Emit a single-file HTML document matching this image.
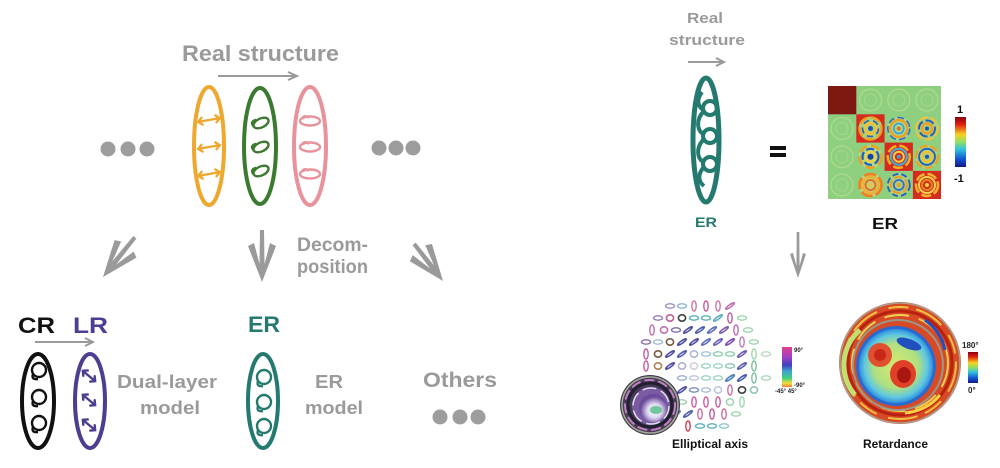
<!DOCTYPE html>
<html><head><meta charset="utf-8"><style>
html,body{margin:0;padding:0;background:#fff;}
svg{display:block;}
text{font-family:"Liberation Sans",Arial,sans-serif;font-weight:bold;}
</style></head><body>
<svg width="1000" height="468" viewBox="0 0 1000 468" xmlns="http://www.w3.org/2000/svg">
<defs>
  <linearGradient id="jet" x1="0" y1="0" x2="0" y2="1">
    <stop offset="0" stop-color="#8a0010"/><stop offset="0.15" stop-color="#e02010"/>
    <stop offset="0.35" stop-color="#f8d020"/><stop offset="0.5" stop-color="#90e060"/>
    <stop offset="0.65" stop-color="#30c0e0"/><stop offset="0.85" stop-color="#1050d0"/>
    <stop offset="1" stop-color="#101880"/>
  </linearGradient>
  <linearGradient id="hsv" x1="0" y1="0" x2="0" y2="1">
    <stop offset="0" stop-color="#e04090"/><stop offset="0.25" stop-color="#a040c0"/>
    <stop offset="0.45" stop-color="#4040c0"/><stop offset="0.6" stop-color="#40a0d0"/>
    <stop offset="0.78" stop-color="#40d080"/><stop offset="0.9" stop-color="#f0e040"/>
    <stop offset="1" stop-color="#f08030"/>
  </linearGradient>
  <radialGradient id="insetc" cx="0.55" cy="0.6" r="0.5">
    <stop offset="0" stop-color="#ffffff"/><stop offset="0.5" stop-color="#e0d8f0"/>
    <stop offset="1" stop-color="#6a4a9a"/>
  </radialGradient>
  <radialGradient id="inner" cx="0.5" cy="0.5" r="0.5">
    <stop offset="0" stop-color="#d8e870"/><stop offset="0.6" stop-color="#b0e080"/>
    <stop offset="0.85" stop-color="#60c8e0"/><stop offset="1" stop-color="#3090e0"/>
  </radialGradient>
  <ellipse id="h" rx="4.5" ry="2.2" fill="none" stroke-width="1.4"/>
  <ellipse id="v" rx="2.2" ry="5" fill="none" stroke-width="1.4"/>
  <ellipse id="o" rx="3.6" ry="3.2" fill="none" stroke-width="1.6"/>
  <ellipse id="d" rx="5.2" ry="1.2" transform="rotate(-35)" fill="none" stroke-width="1.6"/>
</defs>
<rect width="1000" height="468" fill="#fff"/>

<!-- ===== LEFT: Real structure ===== -->
<text x="182" y="61" font-size="22" textLength="157" lengthAdjust="spacingAndGlyphs" fill="#9a9a9a">Real structure</text>
<g stroke="#9a9a9a" stroke-width="2" fill="none">
  <line x1="218" y1="76" x2="296" y2="76"/>
  <path d="M288,72 L297,76 L288,80"/>
</g>

<!-- orange ellipse -->
<ellipse cx="209" cy="146" rx="15" ry="59" fill="none" stroke="#eea72f" stroke-width="4"/>
<g stroke="#eea72f" stroke-width="2.3" fill="none" stroke-linecap="round">
  <g transform="translate(209,120) rotate(-10)"><path d="M-11,0 H11 M-7,-3.5 L-11,0 L-7,3.5 M7,-3.5 L11,0 L7,3.5"/></g>
  <g transform="translate(209,147) rotate(-10)"><path d="M-11,0 H11 M-7,-3.5 L-11,0 L-7,3.5 M7,-3.5 L11,0 L7,3.5"/></g>
  <g transform="translate(209,174) rotate(-10)"><path d="M-11,0 H11 M-7,-3.5 L-11,0 L-7,3.5 M7,-3.5 L11,0 L7,3.5"/></g>
</g>
<!-- green ellipse -->
<ellipse cx="260" cy="146" rx="16" ry="58" fill="none" stroke="#3a7b30" stroke-width="4"/>
<g stroke="#3a7b30" stroke-width="2.4" fill="none">
  <g transform="translate(261,123) rotate(-25)"><ellipse rx="8" ry="4.5"/><path d="M-8,0 q-2,-6 5,-5"/></g>
  <g transform="translate(261,147) rotate(-25)"><ellipse rx="8" ry="4.5"/><path d="M-8,0 q-2,-6 5,-5"/></g>
  <g transform="translate(261,171) rotate(-25)"><ellipse rx="8" ry="4.5"/><path d="M-8,0 q-2,-6 5,-5"/></g>
</g>
<!-- pink ellipse -->
<ellipse cx="310" cy="146" rx="16" ry="59" fill="none" stroke="#e8929b" stroke-width="4"/>
<g stroke="#e8929b" stroke-width="2.4" fill="none">
  <ellipse cx="310" cy="121" rx="10" ry="4.5"/><path d="M302,119 q2,-5 7,-1"/>
  <ellipse cx="310" cy="147" rx="10" ry="4.5"/><path d="M302,145 q2,-5 7,-1"/>
  <ellipse cx="310" cy="174" rx="10" ry="4.5"/><path d="M302,172 q2,-5 7,-1"/>
</g>

<!-- dots -->
<g fill="#9d9d9d">
  <circle cx="108" cy="149" r="7.5"/><circle cx="128" cy="149" r="7.5"/><circle cx="147" cy="149" r="7.5"/>
  <circle cx="379" cy="148" r="7.5"/><circle cx="396" cy="148" r="7.5"/><circle cx="413" cy="148" r="7.5"/>
  <circle cx="440" cy="417" r="7.5"/><circle cx="460" cy="417" r="7.5"/><circle cx="478" cy="417" r="7.5"/>
</g>

<!-- decomposition arrows -->
<g fill="#9a9a9a">
  <polygon transform="translate(103,277) rotate(38.7)" points="0,0 14,-36 8,-39 2.5,-18 2,-51 -2,-51 -2.5,-18 -8,-39 -14,-36"/>
  <polygon transform="translate(262,282)" points="0,0 14,-36 8,-39 2.5,-18 2,-52 -2,-52 -2.5,-18 -8,-39 -14,-36"/>
  <polygon transform="translate(443,281) rotate(-37.9)" points="0,0 14,-36 8,-39 2.5,-18 2,-47 -2,-47 -2.5,-18 -8,-39 -14,-36"/>
  <polygon transform="translate(798,278)" points="0,0 8,-24 5,-25 1.5,-12 1.3,-46 -1.3,-46 -1.5,-12 -5,-25 -8,-24"/>
</g>
<text x="297" y="251" font-size="19" textLength="71" lengthAdjust="spacingAndGlyphs" fill="#9a9a9a">Decom-</text>
<text x="297" y="273" font-size="19" textLength="71" lengthAdjust="spacingAndGlyphs" fill="#9a9a9a">position</text>

<!-- ===== Dual-layer model ===== -->
<text x="18" y="333" font-size="22" textLength="37" lengthAdjust="spacingAndGlyphs" fill="#111">CR</text>
<text x="73" y="333" font-size="22" textLength="35" lengthAdjust="spacingAndGlyphs" fill="#4e3d91">LR</text>
<g stroke="#9a9a9a" stroke-width="2" fill="none">
  <line x1="35" y1="342" x2="92" y2="342"/>
  <path d="M85,338 L93,342 L85,346"/>
</g>
<ellipse cx="38" cy="401" rx="16" ry="47" fill="none" stroke="#111" stroke-width="4"/>
<g stroke="#111" stroke-width="2.4" fill="none">
  <circle cx="39" cy="370" r="7"/><path d="M33,374 q-2,6 5,5"/>
  <circle cx="39" cy="397" r="7"/><path d="M33,401 q-2,6 5,5"/>
  <circle cx="39" cy="423" r="7"/><path d="M33,427 q-2,6 5,5"/>
</g>
<ellipse cx="90" cy="401" rx="15" ry="47" fill="none" stroke="#4e3d91" stroke-width="4"/>
<g stroke="#4e3d91" stroke-width="2.4" fill="none" stroke-linecap="round">
  <g transform="translate(89,376) rotate(40)"><path d="M-8,0 H8 M-4.5,-3.5 L-8,0 L-4.5,3.5 M4.5,-3.5 L8,0 L4.5,3.5"/></g>
  <g transform="translate(89,400) rotate(40)"><path d="M-8,0 H8 M-4.5,-3.5 L-8,0 L-4.5,3.5 M4.5,-3.5 L8,0 L4.5,3.5"/></g>
  <g transform="translate(89,425) rotate(40)"><path d="M-8,0 H8 M-4.5,-3.5 L-8,0 L-4.5,3.5 M4.5,-3.5 L8,0 L4.5,3.5"/></g>
</g>
<text x="117" y="388" font-size="18" textLength="100" lengthAdjust="spacingAndGlyphs" fill="#9a9a9a">Dual-layer</text>
<text x="140" y="414" font-size="18" textLength="60" lengthAdjust="spacingAndGlyphs" fill="#9a9a9a">model</text>

<!-- ===== ER model ===== -->
<text x="248" y="332" font-size="22" textLength="32" lengthAdjust="spacingAndGlyphs" fill="#257a70">ER</text>
<ellipse cx="263" cy="401" rx="15" ry="47" fill="none" stroke="#257a70" stroke-width="4"/>
<g stroke="#257a70" stroke-width="2.4" fill="none">
  <circle cx="264" cy="377" r="7"/><path d="M258,381 q-2,6 5,5"/>
  <circle cx="264" cy="402" r="7"/><path d="M258,406 q-2,6 5,5"/>
  <circle cx="264" cy="426" r="7"/><path d="M258,430 q-2,6 5,5"/>
</g>
<text x="315" y="388" font-size="18" textLength="28" lengthAdjust="spacingAndGlyphs" fill="#9a9a9a">ER</text>
<text x="305" y="414" font-size="18" textLength="58" lengthAdjust="spacingAndGlyphs" fill="#9a9a9a">model</text>

<text x="423" y="387" font-size="21" textLength="74" lengthAdjust="spacingAndGlyphs" fill="#9a9a9a">Others</text>

<!-- ===== RIGHT TOP ===== -->
<text x="687" y="23" font-size="15" textLength="36" lengthAdjust="spacingAndGlyphs" fill="#9a9a9a">Real</text>
<text x="669" y="45" font-size="15" textLength="76" lengthAdjust="spacingAndGlyphs" fill="#9a9a9a">structure</text>
<g stroke="#9a9a9a" stroke-width="2" fill="none">
  <line x1="688" y1="62" x2="723" y2="62"/>
  <path d="M716,58 L724,62 L716,66"/>
</g>
<ellipse cx="706" cy="140" rx="13" ry="62" fill="none" stroke="#257a70" stroke-width="5"/>
<g stroke="#257a70" stroke-width="4" fill="none">
  <path d="M702,92 C696,100 698,106 703,110"/>
  <circle cx="710" cy="108" r="7"/>
  <path d="M703,112 C696,120 697,130 703,134"/>
  <circle cx="710" cy="136" r="7"/>
  <path d="M703,140 C696,148 697,158 703,162"/>
  <circle cx="710" cy="164" r="7"/>
  <path d="M703,168 C697,176 699,182 704,186"/>
</g>
<text x="695" y="227" font-size="14" textLength="22" lengthAdjust="spacingAndGlyphs" fill="#257a70">ER</text>

<rect x="770" y="146" width="16" height="4" fill="#111"/>
<rect x="770" y="153" width="16" height="4" fill="#111"/>

<!-- matrix -->
<rect x="828" y="86" width="113" height="113" fill="#8fcf80"/>
<rect x="828" y="86" width="28.3" height="28.3" fill="#7d1812"/>
<rect x="856.3" y="114.3" width="28.3" height="28.3" fill="#d52b1e"/>
<rect x="884.6" y="142.6" width="28.3" height="28.3" fill="#d52b1e"/>
<rect x="912.9" y="170.9" width="28.1" height="28.1" fill="#d52b1e"/>
<g fill="none" stroke-width="1">
  <g stroke="#b8dc90"><circle cx="870.5" cy="100" r="11"/><circle cx="898.8" cy="100" r="11"/><circle cx="927" cy="100" r="11"/>
  <circle cx="842" cy="128.5" r="11"/><circle cx="842" cy="156.8" r="11"/><circle cx="842" cy="185" r="11"/></g>
  <g stroke="#a8d888"><circle cx="870.5" cy="100" r="6"/><circle cx="898.8" cy="100" r="6"/><circle cx="927" cy="100" r="6"/>
  <circle cx="842" cy="128.5" r="6"/><circle cx="842" cy="156.8" r="6"/><circle cx="842" cy="185" r="6"/></g>
</g>
<g fill="none">
  <g transform="translate(870.5,128.5)"><circle r="12" fill="#a8d080"/><circle r="11" stroke="#f0a020" stroke-width="2.5" stroke-dasharray="10 3"/><circle r="8" stroke="#2060c0" stroke-width="1.6" stroke-dasharray="6 4"/><circle r="5.5" stroke="#f8c030" stroke-width="2.4"/><circle r="2.5" fill="#2050b0"/></g>
  <g transform="translate(898.8,128.5)"><circle r="12" fill="#b0d488"/><circle r="11" stroke="#2a70c8" stroke-width="1.6" stroke-dasharray="7 3"/><circle r="8.5" stroke="#f0a020" stroke-width="2.4"/><circle r="5" stroke="#30a0e0" stroke-width="1.6"/><circle r="2" fill="#e07020"/></g>
  <g transform="translate(927,128.5)"><circle r="12" fill="#a8d080"/><circle r="11" stroke="#f8c030" stroke-width="2" stroke-dasharray="8 3"/><circle r="8" stroke="#2060c0" stroke-width="2" stroke-dasharray="9 3"/><circle r="5" stroke="#f0a020" stroke-width="2.4"/><circle r="2" fill="#2050b0"/></g>
  <g transform="translate(870.5,156.8)"><circle r="12" fill="#b0d488"/><circle r="11" stroke="#f0a020" stroke-width="2.5" stroke-dasharray="9 4"/><circle r="8" stroke="#2060c0" stroke-width="2.2" stroke-dasharray="8 3"/><circle r="5" stroke="#f8d040" stroke-width="2"/><circle r="3" fill="#1840a0"/></g>
  <g transform="translate(898.8,156.8)"><circle r="11" stroke="#f0b020" stroke-width="2.5" stroke-dasharray="10 3"/><circle r="8" stroke="#40b0e0" stroke-width="2"/><circle r="5" stroke="#f8d040" stroke-width="2"/><circle r="2" fill="#40a0d0"/></g>
  <g transform="translate(927,156.8)"><circle r="12" fill="#a8d080"/><circle r="11" stroke="#f0a020" stroke-width="2.2" stroke-dasharray="8 3"/><circle r="8" stroke="#2060c0" stroke-width="1.8"/><circle r="5" stroke="#f8c030" stroke-width="2.2"/><circle r="2" fill="#2050b0"/></g>
  <g transform="translate(870.5,185)"><circle r="12" fill="#c0d080"/><circle r="11" stroke="#f08020" stroke-width="2.8" stroke-dasharray="12 3"/><circle r="8" stroke="#f0b030" stroke-width="2.2"/><circle r="5" stroke="#e07020" stroke-width="2"/><circle r="2" fill="#f0c040"/></g>
  <g transform="translate(898.8,185)"><circle r="12" fill="#a8d080"/><circle r="11" stroke="#2060c0" stroke-width="1.8" stroke-dasharray="6 3"/><circle r="8" stroke="#f0a020" stroke-width="2" stroke-dasharray="8 3"/><circle r="5" stroke="#3070c8" stroke-width="1.8"/><circle r="2" fill="#f0a020"/></g>
  <g transform="translate(927,185)"><circle r="11" stroke="#f0b030" stroke-width="2.6" stroke-dasharray="10 3"/><circle r="8" stroke="#f8d050" stroke-width="2"/><circle r="5" stroke="#e08020" stroke-width="2.2"/><circle r="2" fill="#f8d040"/></g>
</g>
<rect x="955" y="117" width="11" height="50" fill="url(#jet)"/>
<text x="957" y="113" font-size="11" fill="#111">1</text>
<text x="954" y="182" font-size="11" fill="#111">-1</text>
<text x="872" y="229" font-size="16" textLength="26" lengthAdjust="spacingAndGlyphs" fill="#111">ER</text>

<!-- ===== Elliptical axis ===== -->
<g>
  <use href="#h" x="670" y="306" stroke="#a090c8"/><use href="#h" x="682" y="306" stroke="#90b8d8"/><use href="#v" x="694" y="306" stroke="#d078a8"/><use href="#v" x="706" y="306" stroke="#c86098"/><use href="#v" x="718" y="306" stroke="#d078a8"/><use href="#d" x="730" y="306" stroke="#c070b0"/>
  <use href="#h" x="658" y="318" stroke="#a080c0"/><use href="#o" x="670" y="318" stroke="#c06090"/><use href="#o" x="682" y="318" stroke="#404040"/><use href="#h" x="694" y="318" stroke="#60b0c0"/><use href="#h" x="706" y="318" stroke="#60b0c0"/><use href="#d" x="718" y="318" stroke="#60b0c0"/><use href="#v" x="730" y="318" stroke="#c060a0"/><use href="#h" x="742" y="318" stroke="#a0d8b0"/>
  <use href="#v" x="652" y="330" stroke="#c070b0"/><use href="#o" x="664" y="330" stroke="#c070b0"/><use href="#h" x="676" y="330" stroke="#8070b0"/><use href="#d" x="688" y="330" stroke="#5050a0"/><use href="#d" x="700" y="330" stroke="#5060b0"/><use href="#d" x="712" y="330" stroke="#6070b8"/><use href="#d" x="724" y="330" stroke="#8060b0"/><use href="#v" x="736" y="330" stroke="#c070b0"/><use href="#h" x="748" y="330" stroke="#a0d8b0"/>
  <use href="#h" x="646" y="342" stroke="#9070b0"/><use href="#h" x="658" y="342" stroke="#a0c0d8"/><use href="#o" x="670" y="342" stroke="#7a5a40"/><use href="#d" x="682" y="342" stroke="#5050a0"/><use href="#d" x="694" y="342" stroke="#5050a0"/><use href="#d" x="706" y="342" stroke="#6070c0"/><use href="#d" x="718" y="342" stroke="#7060b8"/><use href="#d" x="730" y="342" stroke="#8050b0"/><use href="#v" x="742" y="342" stroke="#c080c0"/><use href="#h" x="754" y="342" stroke="#a0d8b0"/>
  <use href="#v" x="646" y="354" stroke="#c060a0"/><use href="#o" x="658" y="354" stroke="#7a5a40"/><use href="#d" x="670" y="354" stroke="#5050a0"/><use href="#d" x="682" y="354" stroke="#5060b0"/><use href="#o" x="694" y="354" stroke="#b0b8d8"/><use href="#h" x="706" y="354" stroke="#a0c8e0"/><use href="#h" x="718" y="354" stroke="#90d0b0"/><use href="#h" x="730" y="354" stroke="#90d0b0"/><use href="#d" x="742" y="354" stroke="#7060b0"/><use href="#v" x="754" y="354" stroke="#a0d8b0"/><use href="#h" x="766" y="354" stroke="#c0d8c0"/>
  <use href="#v" x="646" y="366" stroke="#c060a0"/><use href="#o" x="658" y="366" stroke="#b08050"/><use href="#d" x="670" y="366" stroke="#5050a0"/><use href="#o" x="682" y="366" stroke="#b0b0d8"/><use href="#o" x="694" y="366" stroke="#d0d0e0"/><use href="#h" x="706" y="366" stroke="#a0d8c0"/><use href="#h" x="718" y="366" stroke="#a0d8c0"/><use href="#h" x="730" y="366" stroke="#90c8b0"/><use href="#d" x="742" y="366" stroke="#6060b0"/><use href="#v" x="754" y="366" stroke="#80c0a0"/>
  <use href="#h" x="682" y="378" stroke="#a0b0d0"/><use href="#h" x="694" y="378" stroke="#c0c8e0"/><use href="#h" x="706" y="378" stroke="#a0d8c0"/><use href="#h" x="718" y="378" stroke="#a0d8c0"/><use href="#d" x="730" y="378" stroke="#5080c0"/><use href="#d" x="742" y="378" stroke="#5060b0"/><use href="#v" x="754" y="378" stroke="#80c0a0"/><use href="#h" x="766" y="378" stroke="#b0d8c0"/>
  <use href="#d" x="682" y="390" stroke="#5050a0"/><use href="#h" x="694" y="390" stroke="#8090c8"/><use href="#h" x="706" y="390" stroke="#b0c0d8"/><use href="#o" x="718" y="390" stroke="#c0c8e0"/><use href="#v" x="730" y="390" stroke="#d070a0"/><use href="#o" x="742" y="390" stroke="#404040"/><use href="#o" x="754" y="390" stroke="#90c8b0"/>
  <use href="#h" x="682" y="402" stroke="#a0d0b0"/><use href="#v" x="694" y="402" stroke="#d060a0"/><use href="#v" x="706" y="402" stroke="#d060a0"/><use href="#v" x="718" y="402" stroke="#d060a0"/><use href="#o" x="730" y="402" stroke="#a0d8b0"/><use href="#v" x="742" y="402" stroke="#a0d8b0"/>
  <use href="#d" x="676" y="414" stroke="#6080c0"/><use href="#d" x="688" y="414" stroke="#5060b0"/><use href="#v" x="700" y="414" stroke="#d070a0"/><use href="#v" x="712" y="414" stroke="#c06090"/><use href="#v" x="724" y="414" stroke="#d070a0"/><use href="#h" x="736" y="414" stroke="#a0d8b0"/>
  <use href="#v" x="688" y="426" stroke="#d04050"/><use href="#h" x="700" y="426" stroke="#60b0c0"/><use href="#h" x="712" y="426" stroke="#60b0c0"/><use href="#h" x="724" y="426" stroke="#90c8d0"/>
</g>
<!-- inset -->
<circle cx="650" cy="405" r="30" fill="#4a3a5a"/>
<circle cx="650" cy="405" r="28" fill="none" stroke="#a0b090" stroke-width="1.5"/>
<circle cx="650" cy="405" r="25" fill="none" stroke="#c080c0" stroke-width="2" stroke-dasharray="10 4"/>
<circle cx="650" cy="405" r="22" fill="none" stroke="#202030" stroke-width="3"/>
<circle cx="651" cy="406" r="19" fill="#7a5aa0"/>
<circle cx="651" cy="406" r="18" fill="none" stroke="#e0e0f0" stroke-width="1.5" stroke-dasharray="14 5"/>
<circle cx="653" cy="408" r="14" fill="url(#insetc)"/>
<ellipse cx="656" cy="410" rx="6" ry="4" fill="#70c8a0"/>
<rect x="782" y="347" width="10" height="40" fill="url(#hsv)"/>
<text x="794" y="352" font-size="6" font-weight="normal" fill="#222">90°</text>
<text x="794" y="387" font-size="6" font-weight="normal" fill="#222">-90°</text>
<text x="775" y="393" font-size="6" font-weight="normal" fill="#222">-45° 45°</text>
<text x="672" y="448" font-size="11.5" textLength="76" lengthAdjust="spacingAndGlyphs" fill="#111">Elliptical axis</text>

<!-- ===== Retardance ===== -->
<circle cx="900" cy="363" r="61" fill="#d84a26"/>
<circle cx="900" cy="363" r="60" fill="none" stroke="#a8a090" stroke-width="1.5"/>
<circle cx="900" cy="363" r="56" fill="none" stroke="#f0c040" stroke-width="2" stroke-dasharray="30 12 20 8"/>
<circle cx="900" cy="363" r="52" fill="none" stroke="#b82010" stroke-width="3"/>
<circle cx="900" cy="363" r="48" fill="none" stroke="#f0d050" stroke-width="2" stroke-dasharray="25 10"/>
<circle cx="898" cy="365" r="45" fill="none" stroke="#9a9888" stroke-width="2"/>
<path d="M860,330 A46,46 0 0,0 855,395" fill="none" stroke="#c0e070" stroke-width="5"/>
<path d="M925,320 A50,50 0 0,1 945,350" fill="none" stroke="#2050c0" stroke-width="3"/>
<path d="M940,395 A50,50 0 0,1 905,413" fill="none" stroke="#f8d040" stroke-width="3"/>
<circle cx="896" cy="366" r="40" fill="#2a6ad0"/>
<circle cx="896" cy="366" r="37" fill="url(#inner)"/>
<ellipse cx="880" cy="355" rx="12" ry="12" fill="#e05030"/>
<ellipse cx="880" cy="355" rx="6" ry="6" fill="#c82818"/>
<ellipse cx="903" cy="374" rx="13" ry="14" fill="#e04028"/>
<ellipse cx="904" cy="375" rx="7" ry="8" fill="#a81810"/>
<ellipse cx="909" cy="344" rx="13" ry="5" fill="#2050c0" transform="rotate(20 909 344)"/>
<rect x="968" y="352" width="10" height="31" fill="url(#jet)"/>
<text x="962" y="348" font-size="8" font-weight="normal" fill="#222">180°</text>
<text x="968" y="393" font-size="8" font-weight="normal" fill="#222">0°</text>
<text x="863" y="448" font-size="11.5" textLength="65" lengthAdjust="spacingAndGlyphs" fill="#111">Retardance</text>
</svg>
</body></html>
